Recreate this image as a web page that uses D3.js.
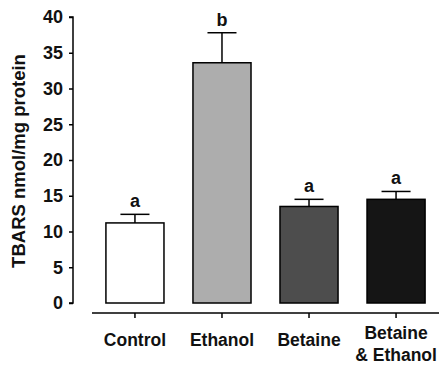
<!DOCTYPE html>
<html>
<head>
<meta charset="utf-8">
<script src="https://cdn.jsdelivr.net/npm/d3@7"></script>
<style>
  body { margin: 0; background: white; }
  text { font-family: "Liberation Sans", Arial, sans-serif; font-weight: bold; }
</style>
</head>
<body>
<script>
//Data
    const groups = ["Control", "Ethanol", "Betaine", "Betaine\n& Ethanol"];
    const means = [11.2, 33.6, 13.5, 14.5];
    const errs = [1.2, 4.2, 1.0, 1.1];
    const letters = ["a", "b", "a", "a"];
    const yTicks = [0, 5, 10, 15, 20, 25, 30, 35, 40];
    const fills = ["#ffffff", "#adadad", "#4d4d4d", "#151515"];

    const width = 441;
    const height = 366;

//Svg creation
    const svg = d3.select("body")
                    .append("svg")
                    .attr("width", width)
                    .attr("height", height);

//Scales
    const y = d3.scaleLinear().domain([0, 40]).range([303, 17]);
    const x = d3.scaleBand()
                .domain(groups)
                .range([92, 439])
                .paddingInner(0.333)
                .paddingOuter(0.16);

//Y axis
    const yAxis = svg.append("g")
        .attr("transform", "translate(73,0)")
        .call(d3.axisLeft(y).tickValues(yTicks).tickSize(4).tickPadding(6));
    yAxis.selectAll("path, line").attr("stroke", "#000").attr("stroke-width", 1.5);
    yAxis.select(".domain").attr("d", "M-4,303H0V17H-4");
    yAxis.selectAll("text").style("font-size", "18px").attr("fill", "#111");

//X axis
    const xAxis = svg.append("g")
        .attr("transform", "translate(0,313)")
        .call(d3.axisBottom(x).tickSize(5).tickFormat(""));
    xAxis.selectAll("path, line").attr("stroke", "#000").attr("stroke-width", 1.5);
    xAxis.select(".domain").attr("d", "M92,0H439");

//Labels under axis
    svg.selectAll(".xlab")
        .data(groups)
        .join("text")
        .attr("class", "xlab")
        .attr("text-anchor", "middle")
        .style("font-size", "17.5px")
        .attr("fill", "#111")
        .each(function(d){
            const lines = d.split("\n");
            const y0 = lines.length > 1 ? 339 : 346;
            d3.select(this)
                .selectAll("tspan")
                .data(lines)
                .join("tspan")
                .attr("x", x(d) + x.bandwidth() / 2)
                .attr("y", (l, i) => y0 + i * 22)
                .text(l => l);
        });

//Bars
    svg.selectAll(".bar")
        .data(groups)
        .join("rect")
        .attr("class", "bar")
        .attr("x", d => x(d))
        .attr("width", x.bandwidth())
        .attr("y", (d, i) => y(means[i]))
        .attr("height", (d, i) => y(0) - y(means[i]))
        .attr("fill", (d, i) => fills[i])
        .attr("stroke", "#000")
        .attr("stroke-width", 1.5);

//Error bars
    const eb = svg.selectAll(".err")
        .data(groups)
        .join("g")
        .attr("class", "err")
        .attr("stroke", "#000")
        .attr("stroke-width", 1.5);
    eb.append("line")
        .attr("x1", d => x(d) + x.bandwidth() / 2)
        .attr("x2", d => x(d) + x.bandwidth() / 2)
        .attr("y1", (d, i) => y(means[i]))
        .attr("y2", (d, i) => y(means[i] + errs[i]));
    eb.append("line")
        .attr("x1", d => x(d) + x.bandwidth() / 4)
        .attr("x2", d => x(d) + x.bandwidth() * 3 / 4)
        .attr("y1", (d, i) => y(means[i] + errs[i]))
        .attr("y2", (d, i) => y(means[i] + errs[i]));

//Letters
    svg.selectAll(".sig")
        .data(groups)
        .join("text")
        .attr("class", "sig")
        .attr("text-anchor", "middle")
        .style("font-size", "18px")
        .attr("fill", "#111")
        .attr("x", d => x(d) + x.bandwidth() / 2)
        .attr("y", (d, i) => y(means[i] + errs[i]) - 7)
        .text((d, i) => letters[i]);

//Y title
    svg.append("text")
        .attr("transform", "translate(25,161) rotate(-90)")
        .attr("text-anchor", "middle")
        .style("font-size", "18.5px")
        .attr("fill", "#111")
        .text("TBARS nmol/mg protein");
</script>
</body>
</html>
